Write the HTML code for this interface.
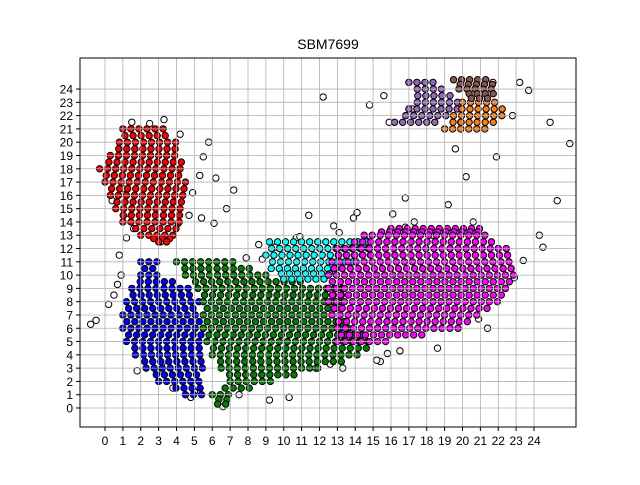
<!DOCTYPE html>
<html><head><meta charset="utf-8"><style>
body{margin:0;background:#fff}
svg{font-family:"Liberation Sans","DejaVu Sans",sans-serif}
</style></head><body>
<svg id="chart" width="640" height="480" viewBox="0 0 640 480">
<rect width="640" height="480" fill="#fff"/>
<text x="328" y="49" font-size="14" text-anchor="middle">SBM7699</text>
<g id="pts"></g>
<g id="grid"></g>
<rect x="80" y="58" width="496" height="369" fill="none" stroke="#000" stroke-width="1"/>
<g id="ticks"></g>
</svg>
<script>
const xTicks=[0,1,2,3,4,5,6,7,8,9,10,11,12,13,14,15,16,17,18,19,20,21,22,23,24];
const yTicks=[0,1,2,3,4,5,6,7,8,9,10,11,12,13,14,15,16,17,18,19,20,21,22,23,24];
// cluster rows: [y, xStart, xEnd]
const redRows=[[21,1,3.5],[20,0.8,4],[19,0.3,4.3],[18,-0.3,4.5],[17,0,4.6],[16,0.3,4.5],[15,0.6,4.5],[14,1,4.3],[13,2,4],[12.5,3,3.8]];
const blueRows=[[11,2,3],[10,2,3.2],[9,1.5,5],[8,1.2,5.3],[7,1,5.4],[6,1,5.5],[5,1.2,5.5],[4,1.7,5.5],[3,2.3,5.5],[2,3,5.5],[1,4.5,5.6]];
const greenRows=[[11,4,7.2],[10,4.5,9],[9,5.2,13.5],[8,5.5,13.5],[7,5.5,13.2],[6,5.5,14],[5,5.7,15],[4,6,14.5],[3,6.5,12],[2,7,9.5],[1,6,7],[0.3,6.3,6.8]];
const cyanRows=[[12.5,9.2,14.8],[11.5,9,15],[10.5,9.3,13],[9.7,10,12.3]];
const magentaRows=[[13.5,16,21],[13,14.5,21.5],[12,13,22.5],[11,12.7,23],[10,12.5,23],[9,12.5,22.5],[8,12.5,22],[7,12.7,21],[6,13,20],[5,13,16]];
const purpleRows=[[24.5,17,18.5],[23.5,17.5,19.5],[22.5,17,20],[21.5,16.2,18.5]];
const orangeRows=[[23,20,22],[22,19.5,22.5],[21,19,21.5]];
const brownRows=[[24.7,19.5,21.5],[24,19.8,22],[23.3,20.5,21.5]];
const outliersX=[-0.8,-0.5,0.5,0.9,1.2,1.5,2.5,3.3,4.2,5.5,5.8,6.2,7.2,6.8,7.5,4.8,5,3.8,2.9,1.8,3.5,9.2,10.3,11.8,12.6,13.3,14.1,15.4,16.5,17.3,18.6,19.2,20.6,21.4,22.4,23.7,24.3,24.5,25.3,26,24.9,23.2,22.8,21.9,16.8,17.2,19.6,20.2,14.8,15.6,15.9,16.1,8.6,9.5,5.4,6.1,4.1,4.7,3.1,0.2,0.7,12.2,13.1,16.8,18.3,2.1,6.6,11.4,10.7,15.2,19.9,20.9,17.7,21.7,1.3,0.8,1.6,4.9,5.3,7.9,8.8,10.9,12.8,13.9,14.6,15.8,22.9,23.4,0.4,1.0];
const outliersY=[6.3,6.6,8.5,10,12.8,21.5,21.4,21.7,20.6,18.9,20,17.3,16.4,15,1,0.8,1.2,1.5,2.7,2.8,3.2,0.6,0.8,3,3.3,3,14.7,3.5,4.3,14,4.5,15.3,14,6,9,23.9,13,12.1,15.6,19.9,21.5,24.5,22,18.9,15.8,22.5,19.5,17.4,22.8,23.5,21.5,14.6,12.3,12.1,14.3,13.9,13.9,14.5,12.5,7.8,9.3,23.4,13.2,13.6,13,7.6,0.1,14.5,12.8,3.6,21.5,6.7,24.2,24.5,14.2,11.5,13.5,16.2,17.5,11.3,11.2,12.9,13.7,14.3,12.6,4.1,9.8,11.1,15.6,16.5];
const sx=v=>105+17.875*v, sy=v=>408-13.29*v;
const NS="http://www.w3.org/2000/svg";
const grid=document.getElementById('grid'),ticks=document.getElementById('ticks'),pts=document.getElementById('pts');
function mk(tag,at,parent){const e=document.createElementNS(NS,tag);for(const k in at)e.setAttribute(k,at[k]);parent.appendChild(e);return e;}
xTicks.forEach(t=>{
 const l=mk('line',{x1:sx(t),x2:sx(t),y1:58,y2:427,stroke:'#b0b0b0','stroke-width':0.8},grid);
 
 
 const tk=mk('line',{x1:sx(t),x2:sx(t),y1:427,y2:431,stroke:'#000'},ticks);
 
 
 const tx=mk('text',{x:sx(t),y:445,'font-size':12,'text-anchor':'middle'},ticks);tx.textContent=t;
 
 
});
yTicks.forEach(t=>{
 const l=mk('line',{x1:80,x2:576,y1:sy(t),y2:sy(t),stroke:'#b0b0b0','stroke-width':0.8},grid);
 
 
 const tk=mk('line',{x1:76,x2:80,y1:sy(t),y2:sy(t),stroke:'#000'},ticks);
 
 
 const tx=mk('text',{x:73,y:sy(t)+4.5,'font-size':12,'text-anchor':'end'},ticks);tx.textContent=t;
 
 
});
function dot(x,y,fill,name){
 const c=mk('circle',{cx:sx(x),cy:sy(y),r:3.2,fill:fill,stroke:'#000','stroke-width':1},pts);
 
 
}
outliersX.forEach((x,i)=>dot(x,outliersY[i],'#fff','outlier-point'));
function cluster(rows,fill,name){
 rows.forEach((r,i)=>{
  const sub=[[r[0],r[1],r[2]]];
  if(i+1<rows.length){const n=rows[i+1];sub.push([(r[0]+n[0])/2,(r[1]+n[1])/2,(r[2]+n[2])/2]);}
  sub.forEach((s,j)=>{
   for(let x=s[1]+(j?0.22:0);x<=s[2]+1e-6;x+=0.45)dot(x,s[0],fill,name);
  });
 });
}
cluster(redRows,'#ff0000','red-cluster-point');
cluster(blueRows,'#0000ff','blue-cluster-point');
cluster(greenRows,'#008000','green-cluster-point');
cluster(cyanRows,'#00ffff','cyan-cluster-point');
cluster(magentaRows,'#ff00ff','magenta-cluster-point');
cluster(purpleRows,'#9467bd','purple-cluster-point');
cluster(orangeRows,'#ff7f0e','orange-cluster-point');
cluster(brownRows,'#8c564b','brown-cluster-point');
</script>
</body></html>
